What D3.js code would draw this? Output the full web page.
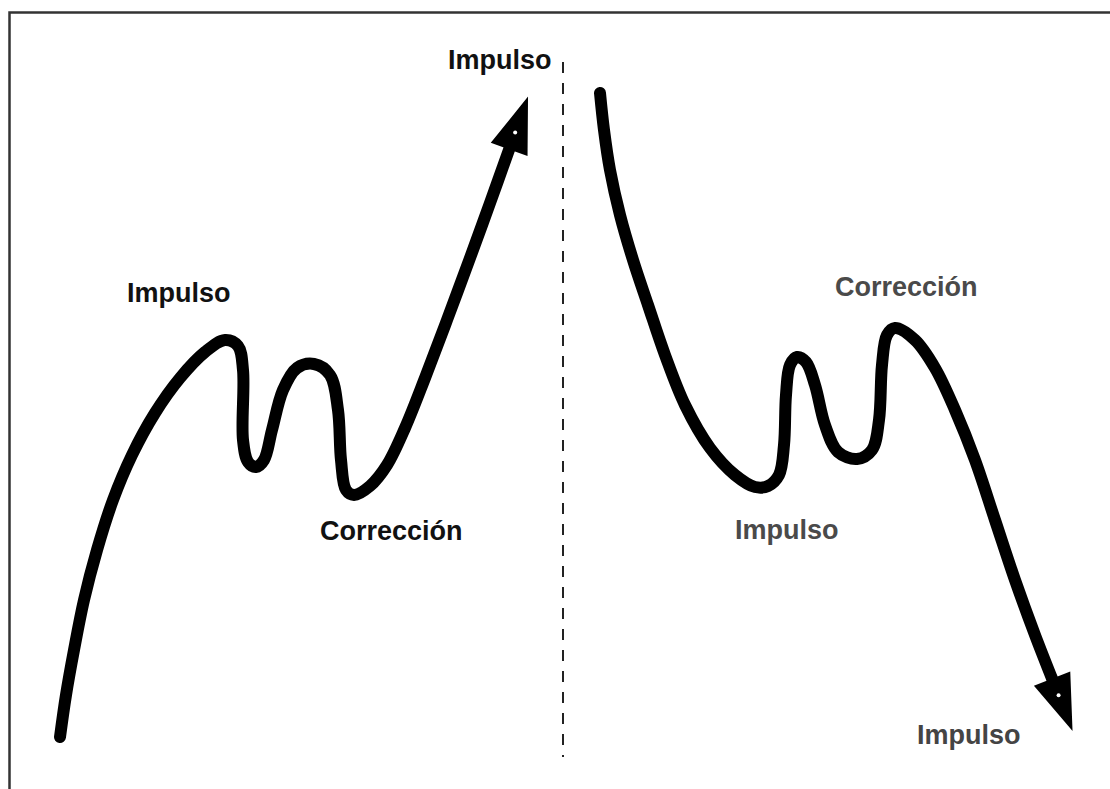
<!DOCTYPE html>
<html>
<head>
<meta charset="utf-8">
<script src="https://cdn.jsdelivr.net/npm/d3@7"></script>
<style>
  html, body { margin: 0; padding: 0; background: #fff; }
  svg { display: block; }
  .label { font-family: 'Liberation Sans', Arial, sans-serif; font-weight: bold; font-size: 27px; }
</style>
</head>
<body>
<svg></svg>
<script>
// uptrend: impulso, correccion, impulso (x = time, level = price)
const leftWaveX = [60, 66, 74, 84, 97, 113, 132, 155, 180, 205, 225, 238, 243, 243, 248, 256, 264, 272, 283, 297, 314, 330, 338, 341, 346, 354, 370, 387, 405, 425, 447, 470, 490, 510]
const leftWaveLevel = [52, 94, 139, 189, 239, 289, 334, 376, 411, 437, 449, 443, 419, 349, 327, 322, 329, 359, 399, 421, 425, 414, 379, 329, 299, 294, 303, 324, 361, 411, 469, 531, 586, 642]

// downtrend: impulso, correccion, impulso
const rightWaveX = [600, 604, 610, 620, 633, 648, 665, 685, 710, 735, 755, 768, 779, 784, 786, 790, 797, 806, 815, 825, 838, 857, 872, 879, 882, 887, 895, 915, 935, 955, 975, 995, 1015, 1035, 1053]
const rightWaveLevel = [696, 659, 619, 574, 529, 484, 434, 384, 341, 314, 302, 303, 314, 344, 394, 424, 432, 427, 404, 364, 337, 330, 339, 369, 424, 454, 461, 449, 421, 379, 329, 269, 209, 154, 108]

const dividerX = 563
const dividerLevels = [32, 727]

const labels = ['Impulso', 'Impulso', 'Corrección', 'Corrección', 'Impulso', 'Impulso']
const labelX = [448, 127, 320, 835, 735, 917]
const labelLevel = [720, 487, 249, 493, 250, 45]
const labelTone = ['#111', '#111', '#111', '#4a4a4a', '#4a4a4a', '#444']

const width = 1110,
  height = 789

const x = d3.scaleLinear()
  .domain([0, width])
  .range([0, width])

const y = d3.scaleLinear()
  .domain([0, height])
  .range([height, 0])

const svg = d3.select('svg')
  .attr('width', width)
  .attr('height', height)

// frame
svg.append('path')
  .attr('d', `M9.5,${height} V12.5 H${width}`)
  .attr('fill', 'none')
  .attr('stroke', '#333')
  .attr('stroke-width', 2.5)

// divider
svg.append('line')
  .attr('x1', x(dividerX))
  .attr('x2', x(dividerX))
  .attr('y1', y(dividerLevels[1]))
  .attr('y2', y(dividerLevels[0]))
  .attr('stroke', '#222')
  .attr('stroke-width', 2)
  .attr('stroke-dasharray', '11,10')

const line = d3.line()
  .x(d => x(d[0]))
  .y(d => y(d[1]))
  .curve(d3.curveCatmullRom.alpha(0.5))

const waves = [
  d3.zip(leftWaveX, leftWaveLevel),
  d3.zip(rightWaveX, rightWaveLevel)
]

svg.selectAll('.wave')
  .data(waves)
  .enter().append('path')
  .attr('class', 'wave')
  .attr('d', line)
  .attr('fill', 'none')
  .attr('stroke', '#000')
  .attr('stroke-width', 12)
  .attr('stroke-linecap', 'round')
  .attr('stroke-linejoin', 'round')

// arrow heads at the end of each wave
waves.forEach(pts => {
  const a = pts[pts.length - 2], b = pts[pts.length - 1]
  const bx = x(b[0]), by = y(b[1])
  let dx = bx - x(a[0]), dy = by - y(a[1])
  const len = Math.hypot(dx, dy)
  dx /= len
  dy /= len
  const headLen = 46, half = 16
  const tip = [bx + dx * headLen, by + dy * headLen]
  const c1 = [bx - dy * half, by + dx * half]
  const c2 = [bx + dy * half, by - dx * half]
  svg.append('path')
    .attr('d', `M${tip}L${c1}L${c2}Z`)
    .attr('fill', '#000')
    .attr('stroke', '#000')
    .attr('stroke-width', 5)
    .attr('stroke-linejoin', 'miter')
  svg.append('circle')
    .attr('cx', (tip[0] + c1[0] + c2[0]) / 3)
    .attr('cy', (tip[1] + c1[1] + c2[1]) / 3)
    .attr('r', 2)
    .attr('fill', '#fff')
})

svg.selectAll('.label')
  .data(labels)
  .enter().append('text')
  .attr('class', 'label')
  .attr('x', (d, i) => x(labelX[i]))
  .attr('y', (d, i) => y(labelLevel[i]))
  .attr('fill', (d, i) => labelTone[i])
  .text(d => d)
</script>
</body>
</html>
